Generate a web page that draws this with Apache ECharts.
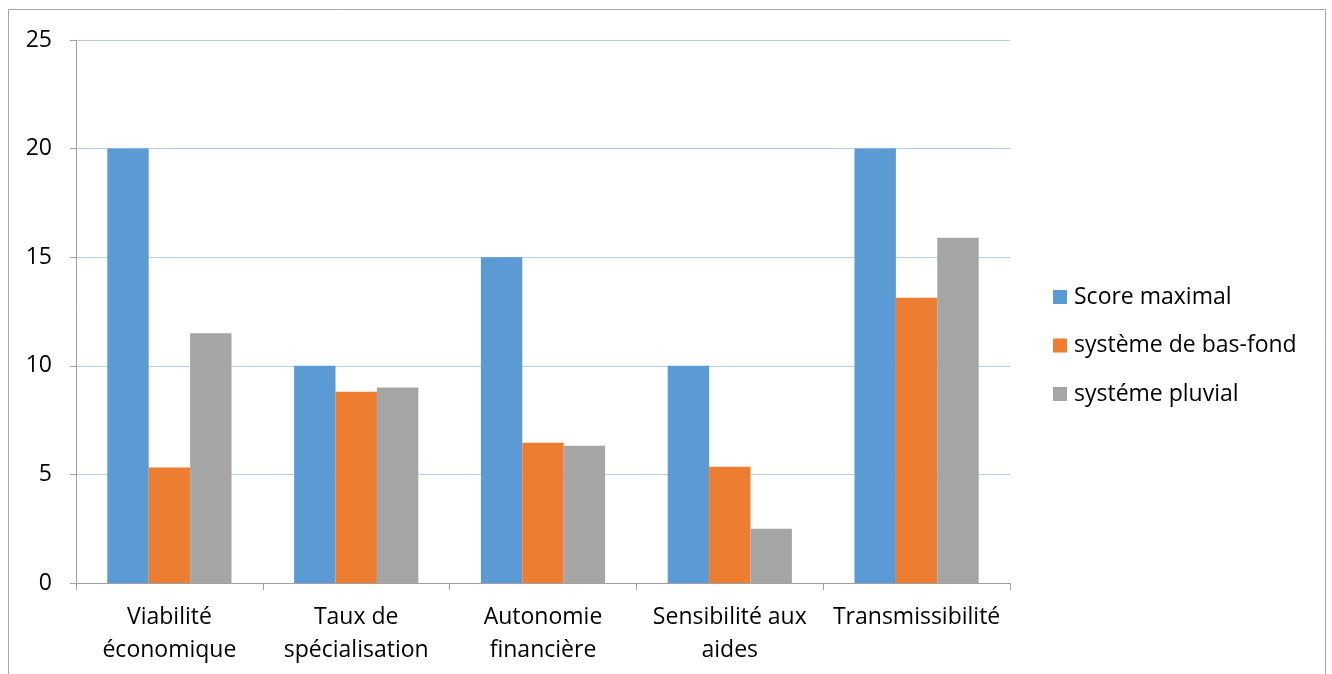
<!DOCTYPE html>
<html>
<head>
<meta charset="utf-8">
<script src="https://cdn.jsdelivr.net/npm/echarts@6/dist/echarts.min.js"></script>
<style>
html,body{margin:0;padding:0;background:#fff;}
#c{width:1332px;height:674px;}
</style>
</head>
<body>
<div id="c"></div>
<script>
const categories = ['Viabilité\néconomique', 'Taux de\nspécialisation', 'Autonomie\nfinancière', 'Sensibilité aux\naides', 'Transmissibilité'];
const scoreMaximal = [20, 10, 15, 10, 20];
const basFond = [5.32, 8.8, 6.46, 5.35, 13.13];
const pluvial = [11.5, 9.0, 6.32, 2.5, 15.9];
const seriesNames = ['Score maximal', 'système de bas-fond', 'systéme pluvial'];
const yTicks = { min: 0, max: 25, interval: 5 };

const font = 'Open Sans';
const chart = echarts.init(document.getElementById('c'));
chart.setOption({
  animation: false,
  backgroundColor: '#fff',
  graphic: [{
    type: 'rect', shape: { x: 8.5, y: 9.5, width: 1317, height: 720 },
    style: { fill: 'none', stroke: '#a6a6a6', lineWidth: 1 }, silent: true
  }],
  grid: { left: 76, right: 322, top: 40, bottom: 91 },
  legend: {
    orient: 'vertical', left: 1053, top: 285, padding: 0,
    itemWidth: 14, itemHeight: 14, itemGap: 24.5,
    icon: 'rect',
    textStyle: { fontFamily: font, fontSize: 23, lineHeight: 24, color: '#000', padding: [0, 0, 0, 2] },
    data: seriesNames
  },
  xAxis: {
    type: 'category', data: categories,
    axisLine: { lineStyle: { color: '#a0a0a0', width: 1 } },
    axisTick: { show: true, length: 7, lineStyle: { color: '#a0a0a0' } },
    axisLabel: { fontFamily: font, fontSize: 23, color: '#000', lineHeight: 33, margin: 18, interval: 0 }
  },
  yAxis: {
    type: 'value', min: yTicks.min, max: yTicks.max, interval: yTicks.interval,
    axisLine: { show: true, lineStyle: { color: '#a0a0a0', width: 1 } },
    axisTick: { show: true, length: 6, lineStyle: { color: '#a0a0a0' } },
    axisLabel: { fontFamily: font, fontSize: 23, color: '#000', margin: 24 },
    splitLine: { lineStyle: { color: '#b4cfe9', width: 1 } }
  },
  series: [
    { name: seriesNames[0], type: 'bar', data: scoreMaximal, itemStyle: { color: '#5b9bd5' }, barGap: '0%', barCategoryGap: '33.5%' },
    { name: seriesNames[1], type: 'bar', data: basFond, itemStyle: { color: '#ed7d31' } },
    { name: seriesNames[2], type: 'bar', data: pluvial, itemStyle: { color: '#a5a5a5' } }
  ]
});
</script>
</body>
</html>
